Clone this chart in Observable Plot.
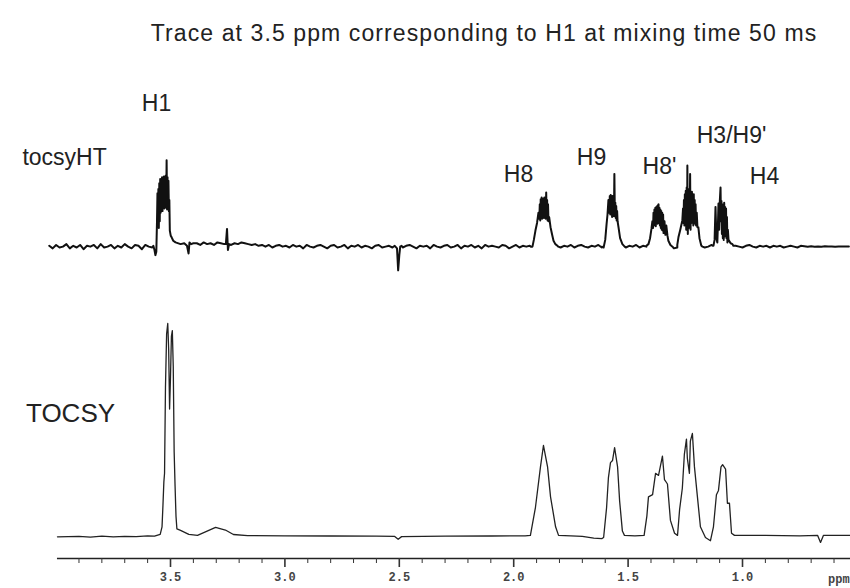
<!DOCTYPE html>
<html>
<head>
<meta charset="utf-8">
<script src="https://cdn.jsdelivr.net/npm/d3@7"></script>
<script src="https://cdn.jsdelivr.net/npm/@observablehq/plot@0.6"></script>
<style>
  html, body { margin: 0; padding: 0; background: #fff; }
  #wrap { width: 850px; height: 588px; overflow: hidden; position: relative; }
  #title { height: 60px; box-sizing: border-box; padding-top: 20px; padding-left: 118px; width: 850px;
           text-align: center; font-family: "Liberation Sans", Arial, sans-serif; font-size: 23px; line-height: 26px;
           color: #222; letter-spacing: 1.1px; white-space: nowrap; }
  svg { display: block; }
</style>
</head>
<body>
<div id="wrap">
  <div id="title">Trace at 3.5 ppm corresponding to H1 at mixing time 50 ms</div>
  <div id="top"></div>
  <div id="bottom"></div>
</div>
<script>
// ---------- data ----------
const ppmDomain = [4.243, 0.528];

// tocsyHT trace: baseline noise sampled every 0.015 ppm starting at 4.03 ppm
const noiseStart = 4.03;
const noiseStep = 0.015;
const topNoise = [
  1,-2,2,-1,0,3,-2,1,-1,2,
  -3,1,0,2,-2,3,-1,0,2,-2,
  1,-1,3,0,-2,2,1,-3,2,0,
  -1,2,-2,1,3,-1,0,-2,2,1,
  0,0,3,4,2,5,3,4,2,5,
  4,3,5,2,4,3,5,4,3,2,
  3,1,2,0,2,-1,1,2,0,1,
  -1,2,0,1,-2,2,0,-1,1,2,
  0,-2,1,2,-1,0,2,-2,1,0,
  2,-1,1,0,-2,1,2,-1,0,1,
  -1,0,2,-1,1,2,0,-2,1,0,
  1,-2,2,0,-1,1,2,-1,0,2,
  -2,1,0,2,-1,1,-2,2,0,1,
  0,-1,2,1,-2,0,2,-1,1,0,
  1,2,0,3,1,2,0,1,2,-1,
  1,0,2,-1,1,2,0,-1,1,0,
  2,-1,0,1,-2,1,0,2,-1,1,
  0,2,-1,1,0,-2,1,2,0,-1,
  1,0,-2,-1,1,2,0,1,-1,0,
  1,-1,0,2,1,-1,0,1,-1,2,
  1,0,-1,1,2,0,-1,1,0,1,
  -1,1,0,1,-1,0,1,0,-1,1,
  0.5,0,0.5,0,0.3,0,0.4,0.2,0.3,0,0.3,0.2,0.3,0.2
];

// tocsyHT peaks [ppm, intensity]
const h1Top = [[3.575,1],[3.570,-4],[3.566,-10],[3.562,-6],[3.559,30],[3.557,63],[3.555,25],[3.553,68],[3.551,22],[3.549,75],[3.547,30],[3.545,80],[3.543,40],[3.541,79],[3.539,44],[3.537,82],[3.535,42],[3.533,80],[3.531,48],[3.529,83],[3.527,45],[3.525,81],[3.523,50],[3.521,84],[3.519,46],[3.517,102],[3.515,44],[3.513,82],[3.511,50],[3.509,78],[3.507,42],[3.505,55],[3.503,19],[3.499,13],[3.495,11],[3.488,7],[3.478,5],[3.456,3],[3.440,4],[3.428,1],[3.421,-8],[3.417,5],[3.410,3],[3.400,4]];
const spikeTop = [[3.258,3],[3.253,21],[3.249,-4],[3.244,3]];
const dipTop = [[2.520,1],[2.510,-2],[2.505,-28],[2.500,-10],[2.496,0],[2.490,1]];
const h8Top = [[1.925,0],[1.918,0],[1.912,8],[1.905,19],[1.898,28],[1.892,40],[1.888,33],[1.886,50],[1.884,31],[1.882,56],[1.880,35],[1.878,58],[1.876,33],[1.874,55],[1.872,38],[1.870,57],[1.868,34],[1.866,58],[1.864,36],[1.862,56],[1.860,33],[1.858,64],[1.856,35],[1.854,55],[1.852,31],[1.850,50],[1.848,30],[1.845,35],[1.839,23],[1.832,14],[1.826,7],[1.818,3],[1.809,1],[1.805,0]];
const h9Top = [[1.615,0],[1.607,-1],[1.600,8],[1.594,27],[1.590,38],[1.586,55],[1.582,40],[1.580,60],[1.578,38],[1.576,61],[1.574,42],[1.572,58],[1.570,35],[1.568,60],[1.566,40],[1.564,55],[1.562,36],[1.560,86],[1.558,40],[1.556,52],[1.554,34],[1.552,48],[1.550,31],[1.548,42],[1.546,30],[1.542,23],[1.535,10],[1.525,3],[1.515,0]];
const h8pTop = [[1.420,1],[1.411,3],[1.404,10],[1.398,21],[1.394,30],[1.391,22],[1.389,40],[1.387,25],[1.385,44],[1.383,28],[1.381,46],[1.379,24],[1.377,47],[1.375,30],[1.373,48],[1.371,27],[1.369,49],[1.367,50],[1.365,28],[1.363,46],[1.361,25],[1.359,44],[1.357,22],[1.355,42],[1.353,20],[1.351,40],[1.349,19],[1.347,38],[1.345,16],[1.341,30],[1.337,14],[1.333,25],[1.328,13],[1.324,7],[1.315,2],[1.306,0],[1.300,-2]];
const h3Top = [[1.285,2],[1.280,11],[1.272,20],[1.263,31],[1.260,45],[1.258,28],[1.256,55],[1.254,25],[1.252,62],[1.250,30],[1.248,66],[1.246,20],[1.244,70],[1.242,27],[1.241,96],[1.239,15],[1.237,66],[1.235,22],[1.233,68],[1.231,26],[1.229,86],[1.227,20],[1.225,64],[1.223,28],[1.221,65],[1.219,30],[1.217,60],[1.215,25],[1.213,62],[1.211,30],[1.209,55],[1.207,27],[1.205,50],[1.203,25],[1.200,40],[1.197,23],[1.193,23],[1.188,10],[1.180,1],[1.175,0]];
const h4Top = [[1.130,1],[1.127,1],[1.122,8],[1.118,47],[1.114,10],[1.110,5],[1.107,30],[1.105,51],[1.102,20],[1.099,55],[1.096,70],[1.094,30],[1.092,54],[1.090,15],[1.088,50],[1.086,10],[1.084,48],[1.082,8],[1.080,52],[1.078,12],[1.076,47],[1.074,15],[1.072,45],[1.070,10],[1.068,35],[1.066,5],[1.064,20],[1.061,8],[1.052,4],[1.044,3],[1.040,1]];

// TOCSY trace [ppm, intensity]
const tocsy = [[3.994,0.3],[3.90,0.5],[3.85,0.2],[3.80,0.6],[3.75,0.3],[3.70,0.5],[3.65,0.4],[3.60,0.8],[3.57,0.6],[3.545,1.5],[3.537,5],[3.533,15],[3.529,26],[3.526,30],[3.522,70],[3.517,95],[3.512,100],[3.508,88],[3.504,60],[3.500,75],[3.496,94],[3.492,96.7],[3.488,80],[3.484,40],[3.480,24],[3.476,10],[3.472,4],[3.456,3.3],[3.42,1.5],[3.382,1],[3.34,3],[3.303,4.7],[3.26,3.5],[3.225,1.4],[3.163,0.9],[3.0,0.8],[2.8,0.7],[2.6,0.6],[2.52,0.5],[2.505,-0.8],[2.49,0.4],[2.3,0.6],[2.1,0.7],[1.95,0.8],[1.927,1],[1.905,14],[1.883,33],[1.870,43],[1.852,33],[1.839,19],[1.817,5],[1.804,1],[1.75,0.8],[1.70,0.5],[1.65,-0.3],[1.615,-0.5],[1.607,0],[1.594,14],[1.586,28],[1.577,35],[1.568,36],[1.559,42],[1.546,33],[1.537,17],[1.525,3],[1.516,1],[1.47,0.8],[1.430,1],[1.418,10],[1.411,19],[1.393,20],[1.380,30],[1.367,29],[1.350,38],[1.341,27],[1.328,25],[1.315,8],[1.297,2],[1.284,1],[1.275,13],[1.263,23],[1.254,39],[1.245,46],[1.241,37],[1.232,30],[1.228,45],[1.219,48.6],[1.210,33],[1.197,19],[1.184,5],[1.162,0],[1.140,-1.5],[1.127,5],[1.114,20],[1.105,22],[1.094,33],[1.087,34],[1.074,32],[1.066,16],[1.057,16],[1.048,2],[1.035,1],[0.9,1],[0.75,0.8],[0.672,1],[0.659,-2.3],[0.646,1],[0.53,1]];

// annotations
const topLabels = ["H1", "tocsyHT", "H8", "H9", "H8'", "H3/H9'", "H4"];
const topLabelPpm = [3.561, 3.963, 1.979, 1.660, 1.363, 1.048, 0.904];
const topLabelLevel = [169, 105, 85, 105, 94, 131, 83];
const bottomLabels = ["TOCSY"];
const bottomLabelPpm = [3.937];
const bottomLabelLevel = [57.9];

// axis ticks
const majorTicks = [3.5, 3.0, 2.5, 2.0, 1.5, 1.0];
const minorTicks = [3.9,3.8,3.7,3.6,3.4,3.3,3.2,3.1,2.9,2.8,2.7,2.6,2.4,2.3,2.2,2.1,1.9,1.8,1.7,1.6,1.4,1.3,1.2,1.1,0.9,0.8,0.7,0.6];
const axisUnit = "ppm";
const axisExtent = [3.994, 0.528];

// ---------- build ----------
const topFeatures = [h1Top, spikeTop, dipTop, h8Top, h9Top, h8pTop, h3Top, h4Top];
const inFeature = p => topFeatures.some(f => p <= f[0][0] && p >= f[f.length - 1][0]);
const topData = topNoise
  .map((v, i) => [noiseStart - i * noiseStep, v])
  .filter(d => !inFeature(d[0]))
  .concat(...topFeatures)
  .sort((a, b) => b[0] - a[0]);

const topLabelData = topLabels.map((t, i) => ({t, x: topLabelPpm[i], y: topLabelLevel[i]}));
const bottomLabelData = bottomLabels.map((t, i) => ({t, x: bottomLabelPpm[i], y: bottomLabelLevel[i]}));

const font = "Liberation Sans, Arial, sans-serif";

const topPlot = Plot.plot({
  width: 850, height: 220,
  marginTop: 0, marginBottom: 0, marginLeft: 0, marginRight: 0,
  x: {domain: ppmDomain, axis: null},
  y: {domain: [-40, 220], axis: null},
  style: {background: "transparent", overflow: "visible"},
  marks: [
    Plot.line(topData, {x: d => d[0], y: d => d[1], stroke: "#111", strokeWidth: 2, strokeLinejoin: "round"}),
    Plot.text(topLabelData, {x: "x", y: "y", text: "t", fontSize: 23, fontFamily: font, fill: "#222"})
  ]
});

const yMinBottom = -9.813;
const bottomPlot = Plot.plot({
  width: 850, height: 308,
  marginTop: 0, marginBottom: 30, marginLeft: 0, marginRight: 0,
  x: {domain: ppmDomain},
  y: {domain: [yMinBottom, 120.09], axis: null},
  style: {background: "transparent", overflow: "visible"},
  marks: [
    Plot.line(tocsy, {x: d => d[0], y: d => d[1], stroke: "#222", strokeWidth: 1.3, strokeLinejoin: "round"}),
    Plot.text(bottomLabelData, {x: "x", y: "y", text: "t", fontSize: 26, fontFamily: font, fill: "#222"}),
    Plot.ruleY([yMinBottom], {x1: axisExtent[0], x2: axisExtent[1], stroke: "#222", strokeWidth: 1.5}),
    Plot.axisX({ticks: minorTicks, tickSize: 5, tickFormat: () => "", label: null, stroke: "#333"}),
    Plot.axisX({ticks: majorTicks, tickSize: 9, tickPadding: 5, label: null, strokeWidth: 1.6, stroke: "#333",
                tickFormat: d => d.toFixed(1), fontFamily: "Liberation Mono, monospace", fontWeight: "bold", fontSize: 12, fill: "#444"}),
    Plot.text([axisUnit], {x: minorTicks[minorTicks.length - 1], y: yMinBottom, dy: 21, dx: -6, textAnchor: "start",
                fontFamily: "Liberation Mono, monospace", fontWeight: "bold", fontSize: 12, fill: "#444"})
  ]
});

document.getElementById("top").appendChild(topPlot);
document.getElementById("bottom").appendChild(bottomPlot);
</script>
</body>
</html>
